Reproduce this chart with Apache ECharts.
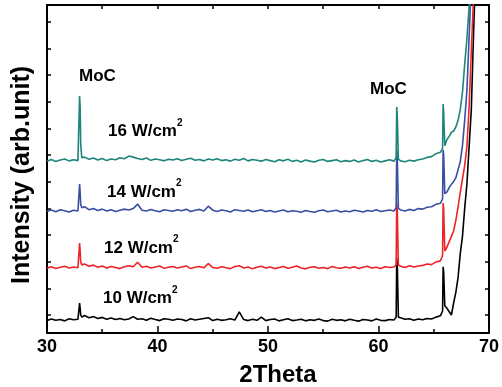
<!DOCTYPE html>
<html>
<head>
<meta charset="utf-8">
<script src="https://cdn.jsdelivr.net/npm/echarts@6/dist/echarts.min.js"></script>
<style>
  html, body { margin: 0; padding: 0; background: #ffffff; }
  #chart { width: 502px; height: 387px; }
</style>
</head>
<body>
<div id="chart"></div>
<script>
// 2Theta sample positions (degrees)
const twoTheta = [
  30.0, 30.4, 30.8, 31.2, 31.6, 32.0, 32.4, 32.8,
  32.9, 32.95, 33.0, 33.05, 33.15,
  33.4, 33.8, 34.2, 34.6, 35.0, 35.4, 35.8, 36.2, 36.6, 37.0,
  37.4, 37.8, 38.2, 38.6, 39.0, 39.4, 39.8, 40.2, 40.6, 41.0,
  41.4, 41.8, 42.2, 42.6, 43.0, 43.4, 43.8, 44.2, 44.6, 45.0,
  45.4, 45.8, 46.2, 46.6, 47.0, 47.4, 47.8, 48.2, 48.6, 49.0,
  49.4, 49.8, 50.2, 50.6, 51.0, 51.4, 51.8, 52.2, 52.6, 53.0,
  53.4, 53.8, 54.2, 54.6, 55.0, 55.4, 55.8, 56.2, 56.6, 57.0,
  57.4, 57.8, 58.2, 58.6, 59.0, 59.4, 59.8, 60.2, 60.6, 61.0,
  61.4,
  61.5, 61.6, 61.65, 61.7, 61.8,
  62.0, 62.4, 62.8, 63.2, 63.6, 64.0, 64.4, 64.8, 65.2, 65.6,
  65.75, 65.8, 65.85, 65.9, 66.0,
  66.2, 66.4, 66.6, 66.8, 67.0, 67.2, 67.4, 67.6, 67.8, 68.0, 68.2, 68.4, 68.6, 68.8, 69.0
];

// Intensities (arb. unit, offset traces as in the figure)
const int10 = [
  79, 85, 80, 83, 78, 86, 82, 84,
  84, 145, 125, 100, 92,
  98, 90, 94, 87, 91, 84, 89, 83, 87, 82,
  85, 94, 84, 86, 80, 88, 83, 79, 86, 84,
  80, 85, 83, 78, 86, 81, 84, 87, 90, 79,
  84, 80, 82, 86, 81, 112, 83, 79, 84, 80,
  92, 79, 83, 85, 78, 82, 86, 79, 81, 84,
  78, 82, 80, 85, 79, 77, 84, 80, 82, 78,
  84, 80, 77, 83, 81, 78, 85, 80, 79, 83,
  81,
  84, 92, 314, 290, 92,
  90, 84, 86, 80, 85, 82, 87, 85, 92, 97,
  102, 115, 281, 260, 135,
  125, 112, 100, 145, 185, 240, 330, 395, 500, 590, 730, 870, 1150, 1400, 1600
];
const int12 = [
  275, 281, 274, 279, 283, 276, 280, 277,
  278, 370, 340, 300, 288,
  291, 283, 287, 279, 284, 276, 282, 278, 274, 281,
  285, 281, 298, 279, 283, 276, 280, 284, 275, 279,
  282, 276, 280, 284, 274, 279, 282, 277, 293, 278,
  275, 281, 277, 274, 282, 285, 276, 280, 273, 279,
  283, 276, 280, 274, 278, 282, 275, 279, 284, 276,
  273, 279, 281, 275, 278, 274, 282, 277, 275, 280,
  276, 281, 274, 279, 283, 276, 279, 274, 281, 278,
  280,
  278, 288, 520, 490, 288,
  283, 278, 285, 280, 284, 286, 291, 289, 299, 303,
  308, 322, 520, 495, 340,
  355, 375, 395, 415, 455, 505, 560, 610, 660, 730, 880, 1090, 1290, 1500, 1700
];
const int14 = [
  489, 494, 487, 495, 491, 486, 493, 490,
  492, 591, 560, 515, 502,
  506, 495, 499, 492, 497, 490, 495, 488, 493, 497,
  494, 499, 516, 493, 490, 496, 491, 487, 495, 492,
  489, 495, 491, 497, 488, 493, 496, 490, 508, 493,
  488, 494, 491, 486, 495, 492, 489, 494, 487, 491,
  495, 488, 492, 486, 490, 494, 487, 491, 489, 485,
  492, 488, 485, 491, 494, 487, 490, 493, 486, 490,
  487, 493, 490, 486, 492, 489, 495, 488, 491, 494,
  490,
  490, 502, 719, 690, 500,
  494, 490, 496, 492, 499, 497, 504, 506, 515, 519,
  522, 535, 719, 700, 555,
  562, 578, 590, 600, 615, 645, 675, 735, 830, 940, 1140, 1350, 1550, 1700, 1800
];
const int16 = [
  677, 683, 676, 681, 685, 678, 682, 679,
  680, 921, 880, 740, 690,
  692, 684, 689, 681, 687, 679, 685, 682, 690, 686,
  696, 692, 687, 683, 689, 680, 685, 682, 678, 684,
  681, 686, 679, 684, 688, 680, 683, 678, 685, 681,
  686, 679, 682, 677, 684, 680, 687, 678, 683, 680,
  677, 683, 679, 675, 682, 678, 684, 676, 680, 674,
  681, 677, 674, 680, 683, 676, 679, 682, 675, 679,
  676, 681, 674, 679, 683, 676, 680, 674, 678, 682,
  677,
  678, 690, 880, 850, 685,
  678, 675, 680, 677, 682, 685, 691, 694, 705, 710,
  712, 725, 891, 860, 735,
  758, 770, 785, 790, 805, 830, 870, 935, 1040, 1135, 1255, 1400, 1550, 1700, 1800
];

const seriesNames = ['10 W/cm2', '12 W/cm2', '14 W/cm2', '16 W/cm2'];
const seriesColors = ['#000000', '#ee2326', '#3a4ea2', '#1d8579'];
const powerLabels = ['16 W/cm', '14 W/cm', '12 W/cm', '10 W/cm'];
const peakLabel = 'MoC';
const xTitle = '2Theta';
const yTitle = 'Intensity (arb.unit)';
const xMin = 30, xMax = 70, xStep = 10;
const yMin = 32.5, yMax = 1262.5;
const yTicks = [100, 200, 300, 400, 500, 600, 700, 800, 900, 1000, 1100, 1200];

const FONT = "'Liberation Sans', Arial, Helvetica, sans-serif";
const allY = [int10, int12, int14, int16];

const chart = echarts.init(document.getElementById('chart'), null, { renderer: 'canvas' });

const axisLineStyle = { color: '#000', width: 2 };
const tickStyle = { color: '#000', width: 1.5 };

const option = {
  animation: false,
  backgroundColor: '#ffffff',
  grid: { left: 47, right: 9, top: 5, bottom: 54, containLabel: false },
  xAxis: [
    {
      type: 'value', min: xMin, max: xMax, interval: xStep, position: 'bottom',
      axisLine: { show: true, onZero: false, lineStyle: axisLineStyle },
      axisTick: { show: true, inside: true, length: 7, lineStyle: tickStyle },
      minorTick: { show: true, splitNumber: 2, length: 4, lineStyle: tickStyle },
      axisLabel: { show: true, color: '#000', fontSize: 18, fontWeight: 'bold', fontFamily: FONT, margin: 5, showMinLabel: true, showMaxLabel: true },
      splitLine: { show: false }
    },
    {
      type: 'value', min: xMin, max: xMax, interval: 5, position: 'top',
      axisLine: { show: true, onZero: false, lineStyle: axisLineStyle },
      axisTick: { show: true, inside: true, length: 4, lineStyle: tickStyle },
      axisLabel: { show: false },
      splitLine: { show: false }
    }
  ],
  yAxis: [
    {
      type: 'value', min: yMin, max: yMax, position: 'left',
      axisLine: { show: true, onZero: false, lineStyle: axisLineStyle },
      axisTick: { show: true, inside: true, length: 4, lineStyle: tickStyle, customValues: yTicks },
      axisLabel: { show: false },
      splitLine: { show: false }
    },
    {
      type: 'value', min: yMin, max: yMax, position: 'right',
      axisLine: { show: true, onZero: false, lineStyle: axisLineStyle },
      axisTick: { show: true, inside: true, length: 4, lineStyle: tickStyle, customValues: yTicks },
      axisLabel: { show: false },
      splitLine: { show: false }
    }
  ],
  series: allY.map((ys, k) => ({
    name: seriesNames[k],
    type: 'line',
    xAxisIndex: 0,
    yAxisIndex: 0,
    showSymbol: false,
    symbol: 'none',
    clip: true,
    lineStyle: { color: seriesColors[k], width: 1.6 },
    itemStyle: { color: seriesColors[k] },
    data: twoTheta.map((x, i) => [x, ys[i]])
  })),
  graphic: [
    { type: 'text', x: 79, y: 76, style: { text: peakLabel, font: 'bold 17px ' + FONT, fill: '#000', textVerticalAlign: 'middle' } },
    { type: 'text', x: 370, y: 89, style: { text: peakLabel, font: 'bold 17px ' + FONT, fill: '#000', textVerticalAlign: 'middle' } },
    { type: 'text', x: 108, y: 131.5, style: { text: powerLabels[0], font: 'bold 17px ' + FONT, fill: '#000', textVerticalAlign: 'middle' } },
    { type: 'text', x: 177, y: 123, style: { text: '2', font: 'bold 10px ' + FONT, fill: '#000', textVerticalAlign: 'middle' } },
    { type: 'text', x: 107, y: 192, style: { text: powerLabels[1], font: 'bold 17px ' + FONT, fill: '#000', textVerticalAlign: 'middle' } },
    { type: 'text', x: 176, y: 183.5, style: { text: '2', font: 'bold 10px ' + FONT, fill: '#000', textVerticalAlign: 'middle' } },
    { type: 'text', x: 104, y: 248, style: { text: powerLabels[2], font: 'bold 17px ' + FONT, fill: '#000', textVerticalAlign: 'middle' } },
    { type: 'text', x: 173, y: 239.5, style: { text: '2', font: 'bold 10px ' + FONT, fill: '#000', textVerticalAlign: 'middle' } },
    { type: 'text', x: 103, y: 298.5, style: { text: powerLabels[3], font: 'bold 17px ' + FONT, fill: '#000', textVerticalAlign: 'middle' } },
    { type: 'text', x: 172, y: 290, style: { text: '2', font: 'bold 10px ' + FONT, fill: '#000', textVerticalAlign: 'middle' } },
    { type: 'text', x: 278, y: 375, style: { text: xTitle, font: 'bold 24px ' + FONT, fill: '#000', textAlign: 'center', textVerticalAlign: 'middle' } },
    { type: 'text', x: 22, y: 175, rotation: Math.PI / 2, style: { text: yTitle, font: 'bold 25px ' + FONT, fill: '#000', textAlign: 'center', textVerticalAlign: 'middle' } }
  ]
};

chart.setOption(option);
</script>
</body>
</html>
